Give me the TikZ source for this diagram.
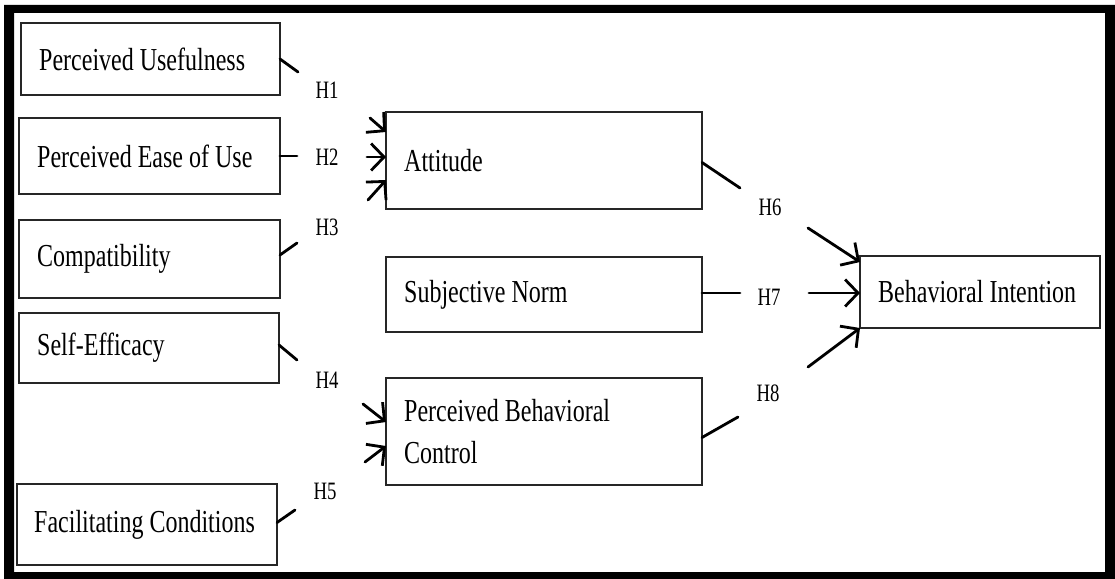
\documentclass[tikz,border=0pt]{standalone}
\usepackage{fontspec}
\setmainfont{Liberation Serif}[FakeStretch=0.75]
\usetikzlibrary{arrows.meta,calc}
\begin{document}
\begin{tikzpicture}[x=1pt,y=-1pt,
  box/.style={draw=black!85,line width=1.6pt,anchor=north west,outer sep=0pt,inner sep=0pt},
  boxtext/.style={anchor=west,inner sep=0pt,align=left,font=\fontsize{32}{42}\selectfont},
  hyp/.style={inner sep=0pt,font=\fontsize{25}{28}\selectfont},
  link/.style={line width=2.8pt,line cap=round},
  arr/.style={link,-{Straight Barb[length=13pt,width=27pt]}}]
\useasboundingbox (0,0) rectangle (1115,578);
% heavy frame
\fill[black,even odd rule] (4,5) rectangle (1120,583) (14,13) rectangle (1105,572);

% constructs
\node[box,minimum width=259pt,minimum height=72pt] (pu) at (21,23) {};
\node[boxtext] (pu-t) at ($(pu.west)+(18,0)$) {Perceived Usefulness};
\node[box,minimum width=261pt,minimum height=76pt] (peu) at (19,118) {};
\node[boxtext] (peu-t) at ($(peu.west)+(18,0)$) {Perceived Ease of Use};
\node[box,minimum width=261pt,minimum height=78pt] (comp) at (19,220) {};
\node[boxtext] (comp-t) at ($(comp.west)+(18,0)$) {Compatibility};
\node[box,minimum width=260pt,minimum height=70pt] (se) at (19,313) {};
\node[boxtext] (se-t) at ($(se.west)+(18,0)$) {Self-Efficacy};
\node[box,minimum width=260pt,minimum height=81pt] (fc) at (17,484) {};
\node[boxtext] (fc-t) at ($(fc.west)+(17,0)$) {Facilitating Conditions};

\node[box,minimum width=316pt,minimum height=97pt] (att) at (386,112) {};
\node[boxtext] (att-t) at ($(att.west)+(18,0)$) {Attitude};
\node[box,minimum width=316pt,minimum height=75pt] (sn) at (386,257) {};
\node[boxtext] (sn-t) at ($(sn.west)+(18,0)$) {Subjective Norm};
\node[box,minimum width=316pt,minimum height=107pt] (pbc) at (386,378) {};
\node[boxtext] (pbc-t) at ($(pbc.west)+(18,0)$) {Perceived Behavioral\\Control};

\node[box,minimum width=240pt,minimum height=72pt] (bi) at (860,256) {};
\node[boxtext] (bi-t) at ($(bi.west)+(18,0)$) {Behavioral Intention};

% hypothesis labels
\node[hyp] (h1) at (327,90) {H1};
\node[hyp] (h2) at (327,157) {H2};
\node[hyp] (h3) at (327,227) {H3};
\node[hyp] (h4) at (327,380) {H4};
\node[hyp] (h5) at (325,491) {H5};
\node[hyp] (h6) at (770,207) {H6};
\node[hyp] (h7) at (769,297) {H7};
\node[hyp] (h8) at (768,393) {H8};

% break points on either side of each label
\coordinate (h1s) at (298,72);  \coordinate (h1e) at (370,118);
\coordinate (h2s) at (297,156); \coordinate (h2e) at (367,157);
\coordinate (h3s) at (297,243); \coordinate (h3e) at (368,200);
\coordinate (h4s) at (297,360); \coordinate (h4e) at (363,404);
\coordinate (h5s) at (295,510); \coordinate (h5e) at (365,462);
\coordinate (h6s) at (740,188); \coordinate (h6e) at (808,228);
\coordinate (h7s) at (740,293); \coordinate (h7e) at (809,293);
\coordinate (h8s) at (738,417); \coordinate (h8e) at (808,367);

% paths into Attitude
\draw[link] (pu.east) -- (h1s);
\draw[arr] (h1e) -- ($(att.north west)+(0,20)$);
\draw[link] (peu.east) -- (h2s);
\draw[arr] (h2e) -- ($(att.west)+(0,-3.5)$);
\draw[link] ($(comp.east)+(0,-4)$) -- (h3s);
\draw[arr] (h3e) -- ($(att.south west)+(0,-29)$);

% paths into Perceived Behavioral Control
\draw[link] ($(se.east)+(0,-3)$) -- (h4s);
\draw[arr] (h4e) -- ($(pbc.north west)+(0,44)$);
\draw[link] ($(fc.east)+(0,-2)$) -- (h5s);
\draw[arr] (h5e) -- ($(pbc.south west)+(0,-39)$);

% paths into Behavioral Intention
\draw[link] ($(att.east)+(0,2)$) -- (h6s);
\draw[arr] (h6e) -- ($(bi.north west)+(0,6)$);
\draw[link] ($(sn.east)+(0,-1.5)$) -- (h7s);
\draw[arr] (h7e) -- ($(bi.west)+(0,1)$);
\draw[link] ($(pbc.east)+(0,6)$) -- (h8s);
\draw[arr] (h8e) -- (bi.south west);
\end{tikzpicture}
\end{document}
